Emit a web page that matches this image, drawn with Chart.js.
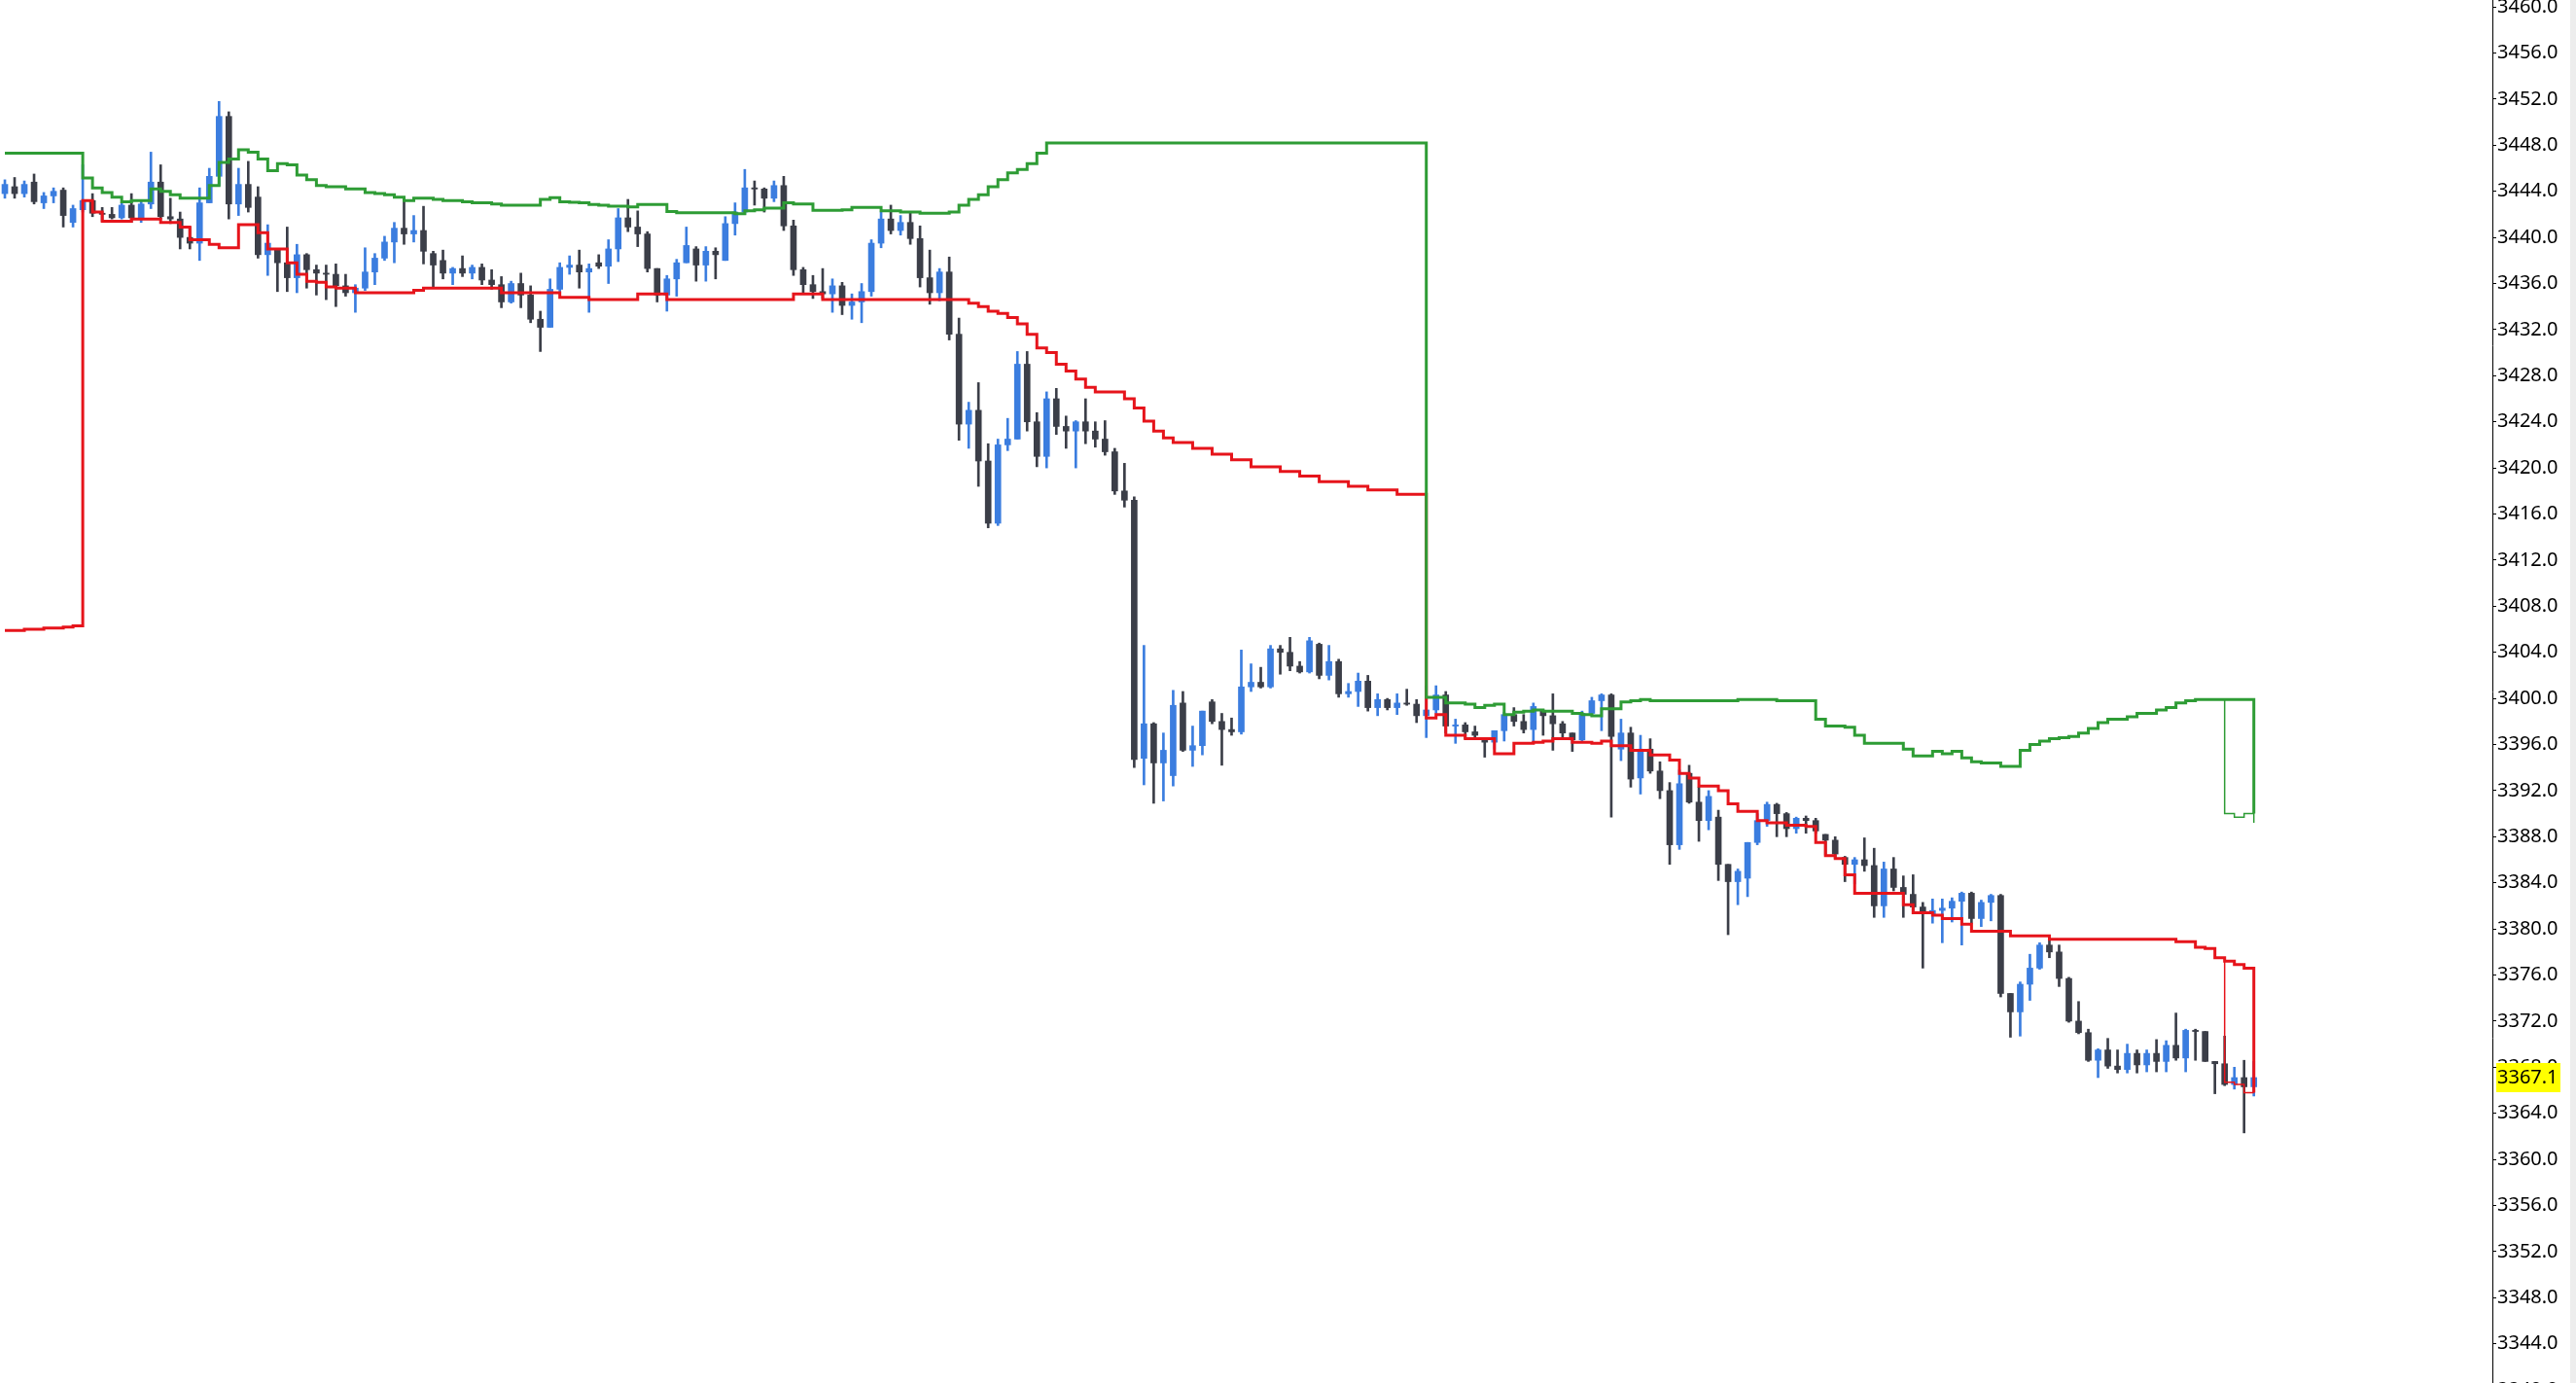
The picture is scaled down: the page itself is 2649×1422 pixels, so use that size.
<!DOCTYPE html>
<html>
<head>
<meta charset="utf-8">
<script src="https://cdn.jsdelivr.net/npm/chart.js@4.4.1/dist/chart.umd.min.js"></script>
<style>
  html, body { margin: 0; padding: 0; background: #fff; }
  #wrap { position: relative; width: 2649px; height: 1422px; }
</style>
</head>
<body>
<div id="wrap"><canvas id="chart" width="2649" height="1422"></canvas></div>
<script>
// ── DATA ─────────────────────────────────────────────
const opens = [
  3443.8, 3444.4, 3443.8, 3444.8, 3443.0, 3443.6, 3444.1, 3441.3, 3442.4, 3443.2,
  3442.1, 3442.0, 3441.7, 3442.8, 3441.7, 3442.9, 3444.8, 3441.8, 3441.6, 3440.0,
  3439.5, 3443.0, 3445.3, 3450.5, 3442.9, 3444.6, 3443.5, 3438.5, 3438.9, 3437.8,
  3436.5, 3438.5, 3437.2, 3436.9, 3436.8, 3435.8, 3435.2, 3435.6, 3437.0, 3438.2,
  3439.6, 3440.8, 3440.3, 3440.6, 3438.6, 3438.0, 3436.9, 3437.3, 3436.9, 3437.4,
  3436.3, 3435.9, 3434.4, 3436.0, 3435.0, 3432.9, 3432.2, 3435.5, 3437.4, 3437.6,
  3437.0, 3437.8, 3437.5, 3439.0, 3441.7, 3440.9, 3440.3, 3437.3, 3435.0, 3436.4,
  3437.8, 3439.0, 3437.6, 3438.8, 3438.0, 3441.2, 3442.2, 3444.3, 3444.2, 3443.4,
  3444.5, 3441.0, 3437.2, 3435.9, 3435.3, 3435.1, 3435.8, 3434.1, 3434.4, 3435.3,
  3439.5, 3441.6, 3440.6, 3441.3, 3439.9, 3436.5, 3435.2, 3437.0, 3431.6, 3423.8,
  3425.0, 3420.6, 3415.2, 3422.0, 3422.5, 3429.0, 3424.0, 3421.0, 3426.0, 3423.6,
  3423.2, 3424.0, 3423.2, 3422.5, 3421.4, 3418.0, 3417.2, 3394.8, 3397.8, 3394.4,
  3393.3, 3399.6, 3395.5, 3395.9, 3399.7, 3398.0, 3397.3, 3397.1, 3401.0, 3401.4,
  3401.0, 3404.3, 3404.0, 3402.8, 3402.3, 3404.7, 3402.0, 3403.2, 3400.4, 3400.6,
  3401.5, 3399.2, 3399.9, 3399.2, 3399.6, 3399.5, 3398.5, 3399.0, 3400.3, 3397.6,
  3397.7, 3397.1, 3396.4, 3396.2, 3397.2, 3398.6, 3398.0, 3397.3, 3398.9, 3398.5,
  3397.8, 3397.0, 3396.4, 3398.7, 3399.8, 3400.3, 3395.6, 3397.0, 3393.1, 3395.6,
  3393.7, 3392.0, 3387.3, 3393.5, 3391.0, 3389.4, 3389.7, 3385.6, 3384.1, 3384.4,
  3387.5, 3389.4, 3390.8, 3390.0, 3388.7, 3389.6, 3389.4, 3388.2, 3387.7, 3386.2,
  3385.6, 3386.0, 3385.5, 3382.0, 3385.2, 3383.6, 3383.0, 3381.9, 3381.3, 3381.6,
  3381.8, 3382.4, 3383.1, 3380.9, 3382.3, 3382.9, 3374.4, 3372.8, 3375.2, 3376.6,
  3378.6, 3378.0, 3375.7, 3372.0, 3371.0, 3368.6, 3369.5, 3368.1, 3367.8, 3369.2,
  3368.2, 3369.2, 3368.5, 3369.9, 3368.8, 3371.2, 3371.1, 3368.5, 3368.3, 3366.5,
  3367.1, 3366.3
];

const highs = [
  3445.0, 3445.2, 3444.9, 3445.5, 3443.9, 3444.3, 3444.3, 3442.8, 3446.3, 3443.8,
  3442.6, 3442.6, 3443.0, 3443.8, 3443.2, 3447.4, 3446.3, 3443.4, 3442.2, 3440.9,
  3444.3, 3446.0, 3451.8, 3450.9, 3446.0, 3446.6, 3444.4, 3441.1, 3439.0, 3440.9,
  3439.4, 3438.6, 3437.6, 3437.6, 3437.7, 3436.8, 3435.9, 3439.1, 3438.6, 3440.1,
  3441.3, 3443.2, 3441.9, 3442.7, 3438.8, 3438.9, 3437.4, 3438.4, 3437.6, 3437.7,
  3437.2, 3436.6, 3436.2, 3436.9, 3435.8, 3433.6, 3436.4, 3437.8, 3438.4, 3438.9,
  3437.7, 3438.5, 3439.8, 3442.5, 3443.3, 3442.3, 3440.5, 3437.3, 3436.7, 3438.1,
  3440.9, 3439.2, 3439.2, 3439.1, 3441.8, 3443.0, 3445.9, 3444.9, 3444.3, 3444.9,
  3445.3, 3441.5, 3437.4, 3436.7, 3437.3, 3436.4, 3436.1, 3435.1, 3436.0, 3439.8,
  3442.2, 3442.8, 3441.9, 3442.2, 3441.0, 3438.9, 3437.3, 3438.3, 3433.0, 3425.7,
  3427.4, 3422.1, 3422.5, 3424.3, 3430.1, 3430.1, 3424.8, 3426.6, 3426.9, 3424.5,
  3424.1, 3426.0, 3424.0, 3424.1, 3421.7, 3420.4, 3417.5, 3404.6, 3397.9, 3397.0,
  3400.7, 3400.6, 3397.6, 3398.9, 3399.9, 3398.7, 3398.3, 3404.2, 3403.0, 3402.7,
  3404.6, 3404.6, 3405.3, 3403.2, 3405.3, 3404.8, 3404.6, 3403.4, 3401.3, 3402.2,
  3402.0, 3400.4, 3400.0, 3400.4, 3400.8, 3399.9, 3401.1, 3401.1, 3400.6, 3398.2,
  3397.9, 3397.6, 3396.5, 3397.2, 3398.8, 3399.2, 3398.6, 3399.6, 3399.0, 3400.4,
  3398.0, 3397.0, 3398.9, 3400.1, 3400.4, 3400.4, 3398.2, 3397.5, 3396.8, 3396.5,
  3394.5, 3392.7, 3393.8, 3394.2, 3392.3, 3392.0, 3390.3, 3385.6, 3385.2, 3387.5,
  3390.0, 3391.0, 3390.9, 3390.1, 3389.7, 3389.8, 3389.6, 3388.2, 3388.0, 3386.3,
  3386.2, 3387.9, 3387.0, 3385.8, 3386.2, 3384.6, 3384.7, 3382.3, 3382.6, 3382.6,
  3382.7, 3383.2, 3383.2, 3382.5, 3383.0, 3383.0, 3374.4, 3375.4, 3377.8, 3378.8,
  3379.0, 3378.6, 3375.8, 3373.7, 3371.3, 3369.6, 3370.5, 3369.5, 3370.0, 3369.5,
  3369.5, 3370.4, 3370.3, 3372.7, 3371.3, 3371.3, 3371.1, 3368.5, 3370.7, 3368.0,
  3368.6, 3368.5
];

const lows = [
  3443.4, 3443.4, 3443.5, 3442.9, 3442.5, 3443.0, 3440.9, 3440.9, 3442.2, 3441.8,
  3441.4, 3441.6, 3441.6, 3441.3, 3441.3, 3442.5, 3441.6, 3441.2, 3439.0, 3439.0,
  3438.0, 3443.0, 3444.5, 3441.6, 3441.9, 3442.2, 3438.2, 3436.7, 3435.3, 3435.3,
  3435.2, 3435.6, 3435.0, 3434.6, 3434.0, 3434.9, 3433.5, 3435.4, 3435.9, 3438.0,
  3437.8, 3439.4, 3439.6, 3437.7, 3435.6, 3436.4, 3435.9, 3436.6, 3436.4, 3435.9,
  3435.5, 3433.9, 3434.3, 3433.9, 3432.6, 3430.1, 3432.2, 3435.3, 3436.8, 3435.6,
  3433.5, 3437.3, 3436.0, 3437.9, 3440.5, 3439.2, 3437.0, 3434.4, 3433.6, 3434.9,
  3437.8, 3436.2, 3436.2, 3436.4, 3438.0, 3440.2, 3442.0, 3442.8, 3442.2, 3443.1,
  3440.6, 3436.7, 3435.2, 3434.7, 3434.7, 3433.5, 3433.3, 3432.9, 3432.6, 3434.9,
  3439.1, 3440.3, 3440.2, 3439.4, 3435.7, 3434.2, 3434.5, 3431.1, 3422.4, 3421.7,
  3418.4, 3414.8, 3415.0, 3421.5, 3422.5, 3423.2, 3420.1, 3420.0, 3422.9, 3421.7,
  3420.0, 3422.1, 3421.8, 3421.1, 3417.7, 3416.6, 3394.0, 3392.5, 3390.9, 3391.1,
  3392.4, 3395.4, 3394.1, 3395.1, 3397.8, 3394.2, 3396.8, 3396.9, 3400.6, 3400.9,
  3400.9, 3402.1, 3402.4, 3402.2, 3402.2, 3401.7, 3401.6, 3400.1, 3400.1, 3399.3,
  3398.9, 3398.5, 3399.0, 3398.6, 3399.4, 3397.9, 3396.6, 3398.7, 3397.0, 3396.1,
  3396.5, 3396.5, 3394.9, 3395.6, 3396.3, 3397.6, 3397.0, 3396.2, 3396.8, 3395.5,
  3396.5, 3395.4, 3396.3, 3398.5, 3397.2, 3389.7, 3394.6, 3392.3, 3391.7, 3393.5,
  3391.3, 3385.6, 3386.9, 3390.9, 3387.6, 3388.6, 3384.2, 3379.5, 3382.1, 3382.8,
  3387.3, 3388.9, 3388.0, 3388.0, 3388.3, 3388.3, 3388.3, 3386.4, 3386.1, 3384.1,
  3383.9, 3385.0, 3381.0, 3381.0, 3383.3, 3381.0, 3381.3, 3376.6, 3380.5, 3378.8,
  3380.6, 3378.6, 3380.5, 3380.2, 3380.7, 3374.1, 3370.6, 3370.7, 3373.8, 3376.5,
  3377.5, 3375.0, 3371.9, 3370.9, 3368.5, 3367.1, 3367.9, 3367.5, 3367.5, 3367.5,
  3367.6, 3367.6, 3367.6, 3368.6, 3367.6, 3368.6, 3368.5, 3365.7, 3366.4, 3366.1,
  3362.3, 3365.5
];

const closes = [
  3444.6, 3443.8, 3444.6, 3443.1, 3443.6, 3444.0, 3441.9, 3442.5, 3443.2, 3442.1,
  3442.0, 3441.7, 3442.8, 3441.7, 3442.9, 3444.8, 3441.8, 3441.6, 3440.0, 3439.5,
  3443.0, 3445.3, 3450.5, 3442.9, 3444.6, 3442.6, 3438.5, 3439.5, 3437.8, 3436.5,
  3438.5, 3437.2, 3436.9, 3436.8, 3435.8, 3435.2, 3435.6, 3437.0, 3438.2, 3439.6,
  3440.8, 3440.3, 3440.6, 3438.8, 3437.6, 3436.9, 3437.3, 3436.9, 3437.4, 3436.3,
  3435.9, 3434.4, 3436.0, 3435.0, 3432.9, 3432.2, 3435.5, 3437.4, 3437.6, 3437.0,
  3437.3, 3437.5, 3439.0, 3441.7, 3440.9, 3440.3, 3437.3, 3435.0, 3436.4, 3437.8,
  3439.3, 3437.6, 3438.8, 3438.5, 3441.2, 3442.2, 3444.3, 3444.2, 3443.4, 3444.5,
  3441.0, 3437.2, 3435.9, 3435.3, 3435.1, 3435.8, 3434.1, 3434.4, 3435.3, 3439.5,
  3441.6, 3440.6, 3441.3, 3439.9, 3436.5, 3435.2, 3437.0, 3431.6, 3423.8, 3425.0,
  3420.6, 3415.2, 3422.0, 3422.5, 3429.0, 3424.0, 3421.0, 3426.0, 3423.6, 3423.2,
  3424.0, 3423.2, 3422.5, 3421.4, 3418.0, 3417.2, 3394.7, 3397.8, 3394.4, 3395.5,
  3399.4, 3395.5, 3395.9, 3398.9, 3398.0, 3397.3, 3397.1, 3401.0, 3401.4, 3401.0,
  3404.3, 3404.0, 3402.8, 3402.3, 3405.0, 3402.0, 3403.2, 3400.4, 3400.6, 3401.5,
  3399.2, 3399.9, 3399.2, 3399.6, 3399.5, 3398.5, 3399.0, 3400.3, 3397.6, 3397.7,
  3397.1, 3396.8, 3396.2, 3397.2, 3398.6, 3398.0, 3397.3, 3399.3, 3398.5, 3397.8,
  3397.0, 3396.4, 3398.7, 3399.8, 3400.3, 3396.7, 3397.0, 3393.0, 3395.6, 3393.7,
  3392.0, 3387.3, 3392.6, 3391.0, 3389.4, 3391.5, 3385.6, 3384.1, 3385.0, 3387.5,
  3389.4, 3390.8, 3390.0, 3388.7, 3389.6, 3389.4, 3388.5, 3387.7, 3386.5, 3385.6,
  3386.0, 3385.5, 3382.0, 3385.2, 3383.6, 3383.0, 3381.9, 3381.3, 3381.6, 3381.8,
  3382.4, 3383.1, 3380.9, 3382.3, 3382.9, 3374.4, 3372.8, 3375.2, 3376.6, 3378.6,
  3378.0, 3375.7, 3372.0, 3371.0, 3368.6, 3369.5, 3368.1, 3367.8, 3369.2, 3368.2,
  3369.2, 3368.5, 3369.9, 3368.8, 3371.2, 3371.1, 3368.5, 3368.3, 3366.5, 3367.1,
  3366.3, 3367.1
];

// session high line (green)
const upperLine = [
  3447.3, 3447.3, 3447.3, 3447.3, 3447.3, 3447.3, 3447.3, 3447.3, 3445.15, 3444.3,
  3443.9, 3443.5, 3443.1, 3443.2, 3443.2, 3444.2, 3444.0, 3443.7, 3443.4, 3443.4,
  3443.4, 3444.5, 3446.5, 3446.8, 3447.6, 3447.4, 3446.8, 3445.8, 3446.4, 3446.3,
  3445.4, 3445.0, 3444.5, 3444.4, 3444.4, 3444.2, 3444.2, 3443.9, 3443.8, 3443.7,
  3443.5, 3443.2, 3443.4, 3443.4, 3443.3, 3443.2, 3443.2, 3443.1, 3443.0, 3443.0,
  3442.9, 3442.8, 3442.8, 3442.8, 3442.8, 3443.3, 3443.45, 3443.1, 3443.05, 3443.0,
  3442.85, 3442.8, 3442.7, 3442.7, 3442.65, 3442.85, 3442.85, 3442.85, 3442.25, 3442.15,
  3442.15, 3442.15, 3442.15, 3442.15, 3442.15, 3442.05, 3442.3, 3442.4, 3442.55, 3442.55,
  3443.0, 3442.9, 3442.9, 3442.35, 3442.35, 3442.35, 3442.4, 3442.6, 3442.6, 3442.6,
  3442.3, 3442.3, 3442.2, 3442.2, 3442.1, 3442.1, 3442.1, 3442.2, 3442.8, 3443.3,
  3443.7, 3444.4, 3445.0, 3445.6, 3445.9, 3446.4, 3447.3, 3448.2, 3448.2, 3448.2,
  3448.2, 3448.2, 3448.2, 3448.2, 3448.2, 3448.2, 3448.2, 3448.2, 3448.2, 3448.2,
  3448.2, 3448.2, 3448.2, 3448.2, 3448.2, 3448.2, 3448.2, 3448.2, 3448.2, 3448.2,
  3448.2, 3448.2, 3448.2, 3448.2, 3448.2, 3448.2, 3448.2, 3448.2, 3448.2, 3448.2,
  3448.2, 3448.2, 3448.2, 3448.2, 3448.2, 3448.2, 3400.1, 3400.1, 3399.6, 3399.6,
  3399.5, 3399.2, 3399.4, 3399.5, 3398.6, 3398.8, 3398.9, 3399.0, 3398.9, 3398.9,
  3398.9, 3398.7, 3398.6, 3398.5, 3399.1, 3399.1, 3399.7, 3399.8, 3399.9, 3399.8,
  3399.8, 3399.8, 3399.8, 3399.8, 3399.8, 3399.8, 3399.8, 3399.8, 3399.9, 3399.9,
  3399.9, 3399.9, 3399.8, 3399.8, 3399.8, 3399.8, 3398.2, 3397.6, 3397.6, 3397.5,
  3396.8, 3396.1, 3396.1, 3396.1, 3396.1, 3395.6, 3395.0, 3395.0, 3395.4, 3395.2,
  3395.4, 3394.85, 3394.5, 3394.4, 3394.4, 3394.1, 3394.1, 3395.5, 3396.0, 3396.3,
  3396.5, 3396.6, 3396.7, 3397.0, 3397.4, 3397.9, 3398.2, 3398.2, 3398.4, 3398.7,
  3398.7, 3399.0, 3399.2, 3399.6, 3399.8, 3399.9, 3399.9, 3399.9, 3399.9, 3399.9,
  3399.9, 3390.0
];

// session low line (red)
const lowerLine = [
  3405.9, 3405.9, 3406.0, 3406.0, 3406.1, 3406.1, 3406.2, 3406.3, 3443.2, 3442.2,
  3441.4, 3441.4, 3441.4, 3441.6, 3441.6, 3441.6, 3441.3, 3441.3, 3440.9, 3439.8,
  3439.8, 3439.4, 3439.1, 3439.1, 3441.1, 3441.1, 3440.4, 3439.0, 3439.0, 3437.8,
  3436.8, 3436.2, 3436.1, 3435.7, 3435.6, 3435.6, 3435.2, 3435.2, 3435.2, 3435.2,
  3435.2, 3435.2, 3435.4, 3435.6, 3435.6, 3435.6, 3435.6, 3435.6, 3435.6, 3435.6,
  3435.6, 3435.2, 3435.2, 3435.2, 3435.2, 3435.2, 3435.2, 3434.8, 3434.8, 3434.8,
  3434.6, 3434.6, 3434.6, 3434.6, 3434.6, 3435.1, 3435.1, 3435.1, 3434.6, 3434.6,
  3434.6, 3434.6, 3434.6, 3434.6, 3434.6, 3434.6, 3434.6, 3434.6, 3434.6, 3434.6,
  3434.6, 3435.1, 3435.1, 3435.1, 3434.6, 3434.6, 3434.6, 3434.6, 3434.6, 3434.6,
  3434.6, 3434.6, 3434.6, 3434.6, 3434.6, 3434.6, 3434.6, 3434.6, 3434.6, 3434.3,
  3434.0, 3433.6, 3433.4, 3433.05, 3432.5, 3431.6, 3430.4, 3430.0, 3429.0, 3428.4,
  3427.7, 3427.0, 3426.6, 3426.6, 3426.6, 3426.0, 3425.2, 3424.05, 3423.2, 3422.6,
  3422.2, 3422.2, 3421.7, 3421.7, 3421.2, 3421.2, 3420.7, 3420.7, 3420.1, 3420.1,
  3420.1, 3419.7, 3419.7, 3419.3, 3419.3, 3418.8, 3418.8, 3418.8, 3418.4, 3418.4,
  3418.1, 3418.1, 3418.1, 3417.7, 3417.7, 3417.7, 3398.3, 3398.6, 3396.8, 3396.8,
  3396.5, 3396.5, 3396.5, 3395.2, 3395.2, 3396.1, 3396.1, 3396.2, 3396.3, 3396.5,
  3396.5, 3396.2, 3396.2, 3396.1, 3396.3, 3395.9, 3395.9, 3395.5, 3395.5, 3395.1,
  3395.1, 3394.65, 3393.5, 3393.1, 3392.4, 3392.4, 3392.0, 3390.85, 3390.2, 3390.2,
  3389.4, 3389.2, 3389.2, 3389.0, 3389.0, 3388.9, 3387.5, 3386.35, 3386.1, 3384.7,
  3383.1, 3383.1, 3383.1, 3383.1, 3383.1, 3382.1, 3381.4, 3381.4, 3381.2, 3380.9,
  3380.9, 3380.4, 3379.8, 3379.8, 3379.8, 3379.8, 3379.4, 3379.4, 3379.4, 3379.4,
  3379.1, 3379.1, 3379.1, 3379.1, 3379.1, 3379.1, 3379.1, 3379.1, 3379.1, 3379.1,
  3379.1, 3379.1, 3379.1, 3378.9, 3378.9, 3378.4, 3378.3, 3377.5, 3377.2, 3376.9,
  3376.6, 3365.8
];

// thin lines at the last bars
const thinStart = 227;
const thinUpper = [3399.9, 3390.0, 3389.7, 3390.0, 3389.2];
const thinLower = [3377.5, 3366.7, 3366.5, 3365.8, 3365.8];

const yTicks = [
  3340, 3344, 3348, 3352, 3356, 3360, 3364, 3368, 3372, 3376, 3380,
  3384, 3388, 3392, 3396, 3400, 3404, 3408, 3412, 3416, 3420,
  3424, 3428, 3432, 3436, 3440, 3444, 3448, 3452, 3456, 3460
];
const yMin = 3340.6, yMax = 3460.6;
const lastPrice = 3367.1;
const slotCount = 256; // 232 bars + empty space on the right

// ── CHART ────────────────────────────────────────────
const BULL = '#3b7ddf', BEAR = '#3b3e48';
const GREEN = '#2e9c35', RED = '#e6141b';

const candleColors = closes.map((c, i) => c >= opens[i] ? BULL : BEAR);
const slots = Array.from({ length: slotCount }, (_, i) => String(i));
const padFrom = (start, vals) => new Array(start).fill(null).concat(vals);

const priceTag = {
  id: 'priceTag',
  afterDraw(chart) {
    const { ctx } = chart;
    const y = chart.scales.y;
    const py = y.getPixelForValue(lastPrice);
    ctx.save();
    ctx.fillStyle = '#ffff00';
    ctx.fillRect(y.left + 4, py - 15, 66, 30);
    ctx.fillStyle = '#000';
    ctx.font = '20px "Noto Sans"';
    ctx.textBaseline = 'middle';
    ctx.textAlign = 'left';
    ctx.fillText(lastPrice.toFixed(1), y.left + 5, py);
    // scroll strip on the far right
    ctx.fillStyle = '#ededed';
    ctx.fillRect(chart.width - 6, 0, 6, chart.height);
    ctx.restore();
  }
};

new Chart(document.getElementById('chart'), {
  type: 'bar',
  data: {
    labels: slots,
    datasets: [
      {
        type: 'line', data: upperLine, borderColor: GREEN, borderWidth: 3,
        stepped: true, pointRadius: 0, fill: false, order: 0
      },
      {
        type: 'line', data: lowerLine, borderColor: RED, borderWidth: 3,
        stepped: true, pointRadius: 0, fill: false, order: 0
      },
      {
        type: 'line', data: padFrom(thinStart, thinUpper), borderColor: GREEN, borderWidth: 1.5,
        stepped: true, pointRadius: 0, fill: false, order: 0
      },
      {
        type: 'line', data: padFrom(thinStart, thinLower), borderColor: RED, borderWidth: 1.5,
        stepped: true, pointRadius: 0, fill: false, order: 0
      },
      {
        type: 'bar', data: opens.map((o, i) => [o, closes[i]]),
        backgroundColor: candleColors, barThickness: 6, minBarLength: 1,
        grouped: false, borderWidth: 0, order: 1
      },
      {
        type: 'bar', data: lows.map((l, i) => [l, highs[i]]),
        backgroundColor: candleColors, barThickness: 2, minBarLength: 1,
        grouped: false, borderWidth: 0, order: 2
      }
    ]
  },
  options: {
    responsive: false,
    animation: false,
    layout: { padding: 0 },
    plugins: { legend: { display: false }, tooltip: { enabled: false } },
    scales: {
      x: { type: 'category', display: false, offset: true, grid: { display: false } },
      y: {
        position: 'right',
        min: yMin, max: yMax,
        afterBuildTicks: s => { s.ticks = yTicks.map(v => ({ value: v })); },
        afterFit: s => { s.width = 86; s.paddingTop = 0; s.paddingBottom = 0; },
        grid: { drawOnChartArea: false, drawTicks: true, tickLength: 4, tickColor: '#000' },
        border: { display: true, color: '#000', width: 1 },
        ticks: {
          autoSkip: false, padding: 1, color: '#000',
          font: { family: 'Noto Sans', size: 20 },
          callback: v => Number(v).toFixed(1)
        }
      }
    }
  },
  plugins: [priceTag]
});
</script>
</body>
</html>
